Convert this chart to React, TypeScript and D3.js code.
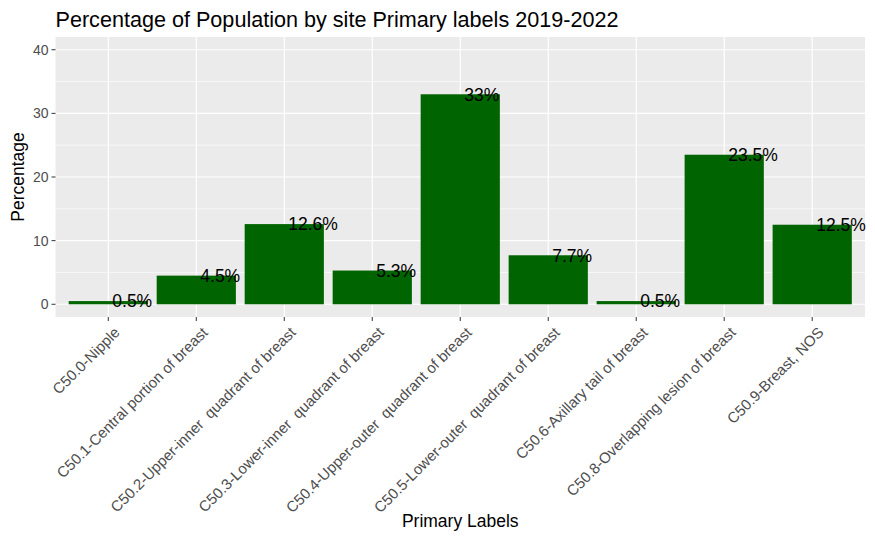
import React, { useEffect, useRef } from 'react';
import * as d3 from 'd3';

const categories = [
  'C50.0-Nipple',
  'C50.1-Central portion of breast',
  'C50.2-Upper-inner  quadrant of breast',
  'C50.3-Lower-inner  quadrant of breast',
  'C50.4-Upper-outer  quadrant of breast',
  'C50.5-Lower-outer  quadrant of breast',
  'C50.6-Axillary tail of breast',
  'C50.8-Overlapping lesion of breast',
  'C50.9-Breast, NOS',
];
const percentages = [0.5, 4.5, 12.6, 5.3, 33, 7.7, 0.5, 23.5, 12.5];
const yTicks = [0, 10, 20, 30, 40];
const yMinorTicks = [5, 15, 25, 35];

const App = () => {
  const ref = useRef<SVGSVGElement>(null);

  useEffect(() => {
    const svg = d3.select(ref.current);
    svg.selectAll('*').remove();

    const left = 55.5;
    const right = 865;
    const top = 37;
    const bottom = 317;
    const font = 'Liberation Sans, Arial, sans-serif';

    // discrete axis with 0.6 expansion on each side, like ggplot
    const step = (right - left) / (categories.length - 1 + 1.2);
    const x = (i: number) => left + step * (0.6 + i);
    const y = d3.scaleLinear().domain([-2, 42]).range([bottom, top]);

    svg.append('rect')
      .attr('x', left).attr('y', top)
      .attr('width', right - left).attr('height', bottom - top)
      .attr('fill', '#EBEBEB');

    // grid
    yMinorTicks.forEach(t => {
      svg.append('line')
        .attr('x1', left).attr('x2', right)
        .attr('y1', y(t)).attr('y2', y(t))
        .attr('stroke', 'white').attr('stroke-width', 0.6);
    });
    yTicks.forEach(t => {
      svg.append('line')
        .attr('x1', left).attr('x2', right)
        .attr('y1', y(t)).attr('y2', y(t))
        .attr('stroke', 'white').attr('stroke-width', 1.2);
    });
    categories.forEach((c, i) => {
      svg.append('line')
        .attr('x1', x(i)).attr('x2', x(i))
        .attr('y1', top).attr('y2', bottom)
        .attr('stroke', 'white').attr('stroke-width', 1.2);
    });

    // bars
    const bw = step * 0.9;
    svg.append('g')
      .selectAll('rect')
      .data(percentages)
      .join('rect')
      .attr('x', (d, i) => x(i) - bw / 2)
      .attr('y', d => y(d))
      .attr('width', bw)
      .attr('height', d => y(0) - y(d))
      .attr('fill', '#006400');

    // value labels
    svg.append('g')
      .selectAll('text')
      .data(percentages)
      .join('text')
      .attr('x', (d, i) => x(i) + 4)
      .attr('y', d => y(d))
      .attr('dy', '0.36em')
      .attr('font-family', font)
      .attr('font-size', 17.5)
      .attr('fill', 'black')
      .text(d => `${d}%`);

    // y axis
    yTicks.forEach(t => {
      svg.append('line')
        .attr('x1', left - 4).attr('x2', left)
        .attr('y1', y(t)).attr('y2', y(t))
        .attr('stroke', '#333333').attr('stroke-width', 1);
      svg.append('text')
        .attr('x', left - 7).attr('y', y(t))
        .attr('dy', '0.36em')
        .attr('text-anchor', 'end')
        .attr('font-family', font).attr('font-size', 14)
        .attr('fill', '#4D4D4D')
        .text(t);
    });

    // x axis
    categories.forEach((c, i) => {
      svg.append('line')
        .attr('x1', x(i)).attr('x2', x(i))
        .attr('y1', bottom).attr('y2', bottom + 4)
        .attr('stroke', '#333333').attr('stroke-width', 1);
      svg.append('text')
        .attr('transform', `translate(${x(i) + 5},${bottom + 9}) rotate(-45)`)
        .attr('text-anchor', 'end')
        .attr('dy', '0.7em')
        .attr('font-family', font).attr('font-size', 15)
        .attr('fill', '#4D4D4D')
        .style('white-space', 'pre')
        .text(c);
    });

    svg.append('text')
      .attr('x', left).attr('y', 27)
      .attr('font-family', font).attr('font-size', 21.6)
      .attr('fill', 'black')
      .text('Percentage of Population by site Primary labels 2019-2022');

    svg.append('text')
      .attr('x', (left + right) / 2).attr('y', 527)
      .attr('text-anchor', 'middle')
      .attr('font-family', font).attr('font-size', 17.5)
      .attr('fill', 'black')
      .text('Primary Labels');

    svg.append('text')
      .attr('transform', `translate(24,${(top + bottom) / 2}) rotate(-90)`)
      .attr('text-anchor', 'middle')
      .attr('font-family', font).attr('font-size', 17.5)
      .attr('fill', 'black')
      .text('Percentage');
  }, []);

  return (
    <div style={{ position: 'absolute', left: 0, top: 0 }}>
      <svg ref={ref} width={875} height={540} style={{ display: 'block', background: 'white' }} />
    </div>
  );
};

export default App;
